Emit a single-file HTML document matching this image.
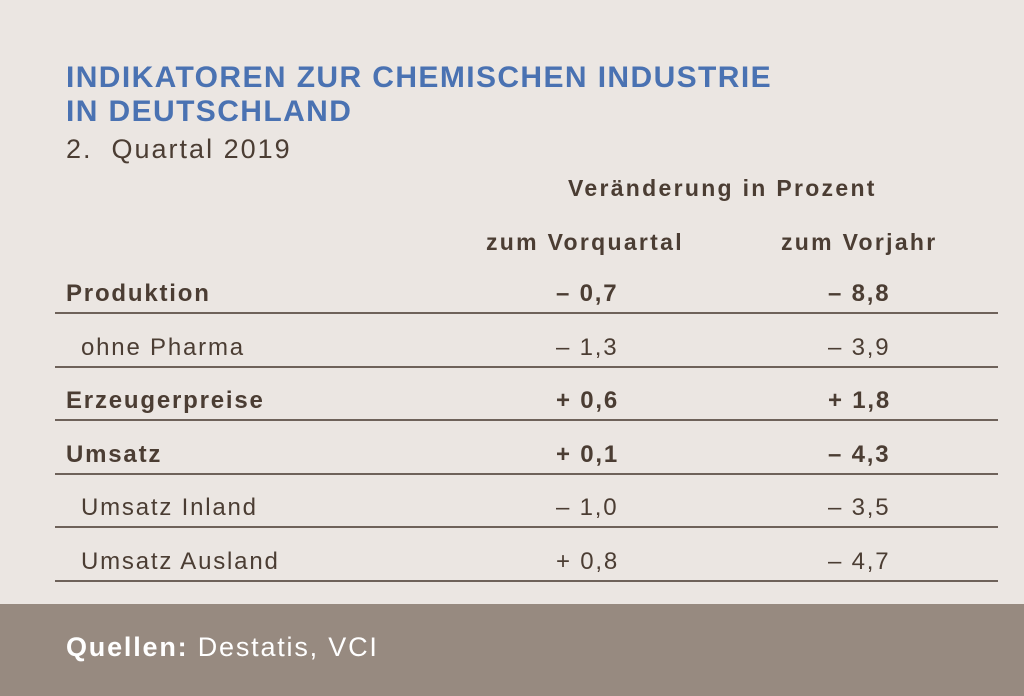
<!DOCTYPE html>
<html><head><meta charset="utf-8"><style>
body{margin:0;width:1024px;height:696px;background:#ebe6e2;font-family:"Liberation Sans",sans-serif;color:#4b3d33;position:relative;overflow:hidden}
.a{position:absolute;white-space:nowrap}
.t{color:#4a72b2;font-weight:bold;font-size:30px;letter-spacing:1.4px;left:66px}
.b{font-weight:bold}
.h{font-size:23px;letter-spacing:2.3px}
.line{position:absolute;left:55px;width:943px;height:2px;background:#6e625a}
.r{font-size:24px;letter-spacing:1.8px}
</style></head><body>
<div class="a t" style="top:61px">INDIKATOREN ZUR CHEMISCHEN INDUSTRIE</div>
<div class="a t" style="top:95px">IN DEUTSCHLAND</div>
<div class="a" style="left:66px;top:134px;font-size:27px;letter-spacing:2px">2.&nbsp; Quartal 2019</div>
<div class="a b h" style="left:568px;top:175px">Veränderung in Prozent</div>
<div class="a b h" style="left:486px;top:229px">zum Vorquartal</div>
<div class="a b h" style="left:781px;top:229px">zum Vorjahr</div>
<div id="rows"></div>
<div class="a" style="left:0;top:604px;width:1024px;height:92px;background:#978a80"></div>
<div class="a" style="left:66px;top:632px;font-size:27px;letter-spacing:1.8px;color:#fff"><b>Quellen:</b> Destatis, VCI</div>
<script>
const labels=["Produktion","ohne Pharma","Erzeugerpreise","Umsatz","Umsatz Inland","Umsatz Ausland"];
const bold=[1,0,1,1,0,0];
const indent=[0,1,0,0,1,1];
const vq=["– 0,7","– 1,3","+ 0,6","+ 0,1","– 1,0","+ 0,8"];
const vj=["– 8,8","– 3,9","+ 1,8","– 4,3","– 3,5","– 4,7"];
const host=document.getElementById('rows');
labels.forEach((l,i)=>{
 const y=280+i*53.6;
 const mk=(x,txt,name)=>{const d=document.createElement('div');d.className='a r'+(bold[i]?' b':'');d.style.left=x+'px';d.style.top=y+'px';d.textContent=txt;
 
 
 host.appendChild(d);};
 mk(indent[i]?81:66,l,'row-label');
 mk(556,vq[i],'value-prev-quarter');
 mk(828,vj[i],'value-prev-year');
 const ln=document.createElement('div');ln.className='line';ln.style.top=(y+32)+'px';
 
 
 host.appendChild(ln);
});
</script>
</body></html>
